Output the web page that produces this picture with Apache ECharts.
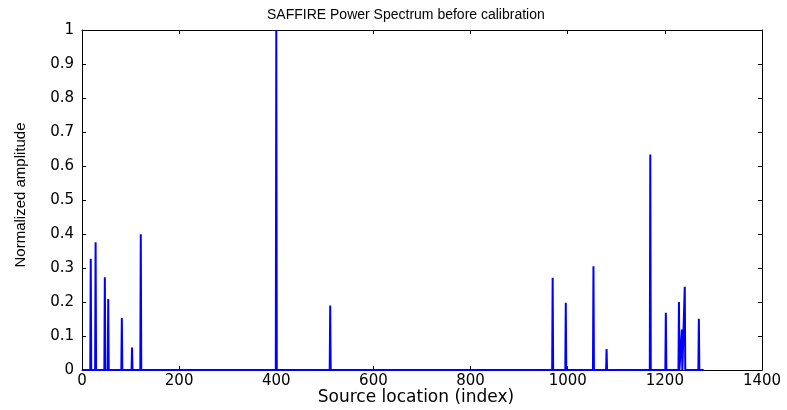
<!DOCTYPE html>
<html>
<head>
<meta charset="utf-8">
<script src="https://cdn.jsdelivr.net/npm/echarts@6/dist/echarts.min.js"></script>
<style>html,body{margin:0;padding:0;background:#fff;}#c{width:787px;height:410px;}</style>
</head>
<body>
<div id="c"></div>
<script>
var titleText = 'SAFFIRE Power Spectrum before calibration';
var xName = 'Source location (index)';
var yName = 'Normalized amplitude';
var xTicks = [0, 200, 400, 600, 800, 1000, 1200, 1400];
var yTicks = [0, 0.1, 0.2, 0.3, 0.4, 0.5, 0.6, 0.7, 0.8, 0.9, 1];
var sampleStart = 1;
var sampleEnd = 1280;
var spikeIndex = [18, 28, 47, 54, 82, 103, 121, 400, 511, 969, 996, 1053, 1080, 1170, 1202, 1229, 1235, 1241, 1270];
var spikeValue = [0.327, 0.376, 0.273, 0.209, 0.153, 0.066, 0.399, 1.0, 0.19, 0.271, 0.198, 0.305, 0.062, 0.634, 0.168, 0.2, 0.119, 0.245, 0.151];

var data = [[sampleStart, 0]];
for (var k = 0; k < spikeIndex.length; k++) {
  data.push([spikeIndex[k] - 1, 0]);
  data.push([spikeIndex[k], spikeValue[k]]);
  data.push([spikeIndex[k] + 1, 0]);
}
data.push([sampleEnd, 0]);

var chart = echarts.init(document.getElementById('c'));
var axisLine = {show: true, onZero: false, lineStyle: {color: '#000', width: 1}};
var tickStyle = {show: true, inside: true, length: 4, lineStyle: {color: '#000', width: 1}};
var labelFont = {color: '#000', fontFamily: 'DejaVu Sans', fontSize: 15};
chart.setOption({
  animation: false,
  backgroundColor: '#fff',
  title: {
    text: titleText, left: 262, top: 3,
    textStyle: {fontFamily: 'Liberation Sans', fontSize: 14, fontWeight: 'normal', color: '#000'}
  },
  grid: {left: 82, right: 25, top: 30, bottom: 40, containLabel: false, outerBoundsMode: 'none'},
  xAxis: [{
    type: 'value', min: xTicks[0], max: xTicks[xTicks.length - 1], interval: 200,
    position: 'bottom',
    axisLine: axisLine, axisTick: tickStyle, splitLine: {show: false},
    axisLabel: Object.assign({margin: 4, formatter: function (v) { return String(v); }}, labelFont),
    name: xName, nameLocation: 'middle', nameGap: 19, nameMoveOverlap: false,
    nameTextStyle: {fontFamily: 'DejaVu Sans', fontSize: 17, color: '#000', padding: [0, 12, 0, 0]}
  }, {
    type: 'value', min: xTicks[0], max: xTicks[xTicks.length - 1], interval: 200,
    position: 'top',
    axisLine: axisLine, axisTick: tickStyle, splitLine: {show: false},
    axisLabel: {show: false}
  }],
  yAxis: [{
    type: 'value', min: yTicks[0], max: yTicks[yTicks.length - 1], interval: 0.1,
    position: 'left',
    axisLine: axisLine, axisTick: tickStyle, splitLine: {show: false},
    axisLabel: Object.assign({margin: 8, formatter: function (v) { return String(Math.round(v * 10) / 10); }}, labelFont),
    name: yName, nameLocation: 'middle', nameGap: 54, nameRotate: 90, nameMoveOverlap: false,
    nameTextStyle: {fontFamily: 'Liberation Sans', fontSize: 15, color: '#000', padding: [0, 0, 0, 10]}
  }, {
    type: 'value', min: yTicks[0], max: yTicks[yTicks.length - 1], interval: 0.1,
    position: 'right',
    axisLine: axisLine, axisTick: tickStyle, splitLine: {show: false},
    axisLabel: {show: false}
  }],
  series: [{
    type: 'line', data: data, showSymbol: false, symbol: 'none',
    xAxisIndex: 0, yAxisIndex: 0, z: 5,
    lineStyle: {color: '#0000ff', width: 2}
  }]
});
</script>
</body>
</html>
